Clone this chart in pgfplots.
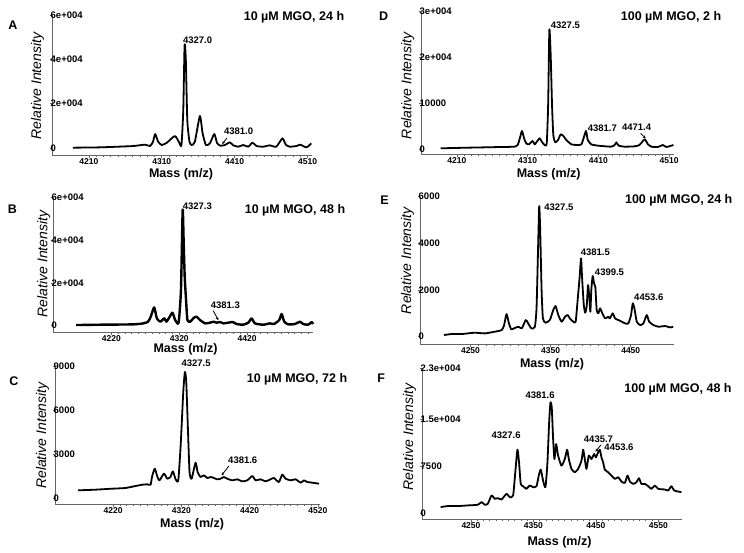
\documentclass[border=0pt]{standalone}
\usepackage{fontspec}
\setmainfont{Liberation Sans}
\usepackage{pgfplots}
\pgfplotsset{compat=1.18}
\usetikzlibrary{arrows.meta}
\newcommand\ttl{\fontsize{12.5}{14}\selectfont\bfseries}
\newcommand\ylab{\fontsize{14}{16}\selectfont\itshape}
\tikzset{
  anno/.style={font=\fontsize{9.5}{11}\selectfont\bfseries, inner sep=0pt},
  arr/.style={-{Stealth[length=3pt,width=3pt]}, line width=0.8pt, black},
  spl/.style={black, line width=1.8pt, line join=round, smooth, tension=0.35},
}
\pgfplotsset{
  spec/.style={
    scale only axis, clip=false, scaled ticks=false,
    axis x line=bottom, axis y line=left,
    axis line style={-, black!60, line width=0.8pt},
    tick style={black!60, line width=0.6pt},
    tick align=outside, major tick length=2.5pt, minor tick length=1.5pt,
    minor x tick num=9,
    every x tick label/.append style={font=\fontsize{8.5}{9}\selectfont\bfseries, inner sep=0.5pt},
    every y tick label/.append style={font=\fontsize{9.5}{10}\selectfont\bfseries, anchor=west, inner sep=1pt},
    /pgf/number format/assume math mode=true,
  },
}
\begin{document}
\begin{tikzpicture}
\useasboundingbox (0pt,0pt) rectangle (744pt,-552pt);

% ---------------- A ----------------
\begin{axis}[spec, at={(52pt,-155pt)}, anchor=south west, width=260pt, height=140pt,
  xmin=4159.5, xmax=4516, ymin=-3150, ymax=60000,
  xtick={4210,4310,4410,4510}, xticklabels={4210,4310,4410,4510},
  ytick={0,20000,40000,60000}, yticklabels={0,2e+004,4e+004,6e+004}]
\addplot[spl] coordinates {(4188,150) (4225,300) (4250,600) (4271,900) (4287,1500) (4294,900) (4298,2860) (4301,6300) (4305,2860) (4310,1350) (4317,2400) (4328,5400) (4334,2400) (4337,1350) (4339.5,17150) (4341.3,46500) (4343,39700) (4345,12630) (4348,2860) (4351,1350) (4355.4,2860) (4362.3,14440) (4366,6620) (4370.5,1350) (4376,2100) (4382,6320) (4386,2100) (4390.6,1050) (4396.5,1350) (4403.4,2560) (4408,1200) (4415,600) (4421.6,1350) (4428.5,600) (4434.4,2400) (4440,900) (4449,600) (4458,1200) (4467,600) (4475.5,4360) (4480,1500) (4485.6,600) (4494.7,900) (4500,1500) (4508.4,300) (4515,2100)};
\node[anno, anchor=south west] at (axis cs:4339,47000) {4327.0};
\node[anno] at (axis cs:4415.4,7370) {4381.0};
\draw[arr] (axis cs:4399.3,4510) -- (axis cs:4393,1800);
\end{axis}

% ---------------- D ----------------
\begin{axis}[spec, at={(421pt,-154pt)}, anchor=south west, width=253pt, height=143pt,
  xmin=4159.4, xmax=4516.8, ymin=-1087, ymax=30000,
  xtick={4210,4310,4410,4510}, xticklabels={4210,4310,4410,4510},
  ytick={0,10000,20000,30000}, yticklabels={0,10000,2e+004,3e+004}]
\addplot[spl] coordinates {(4187,150) (4226,290) (4273,435) (4292,508) (4296,870) (4299,2320) (4302,3915) (4305,2320) (4308,1233) (4312,1015) (4317,1740) (4320,1015) (4323,1595) (4327,2320) (4330,1595) (4334,870) (4337,1233) (4339,9570) (4340.7,25900) (4342.6,20445) (4344.5,9570) (4346.3,3045) (4349,1450) (4353,1958) (4356.7,3190) (4360.5,2828) (4364.7,1958) (4372,1015) (4381,870) (4386,1015) (4389,2320) (4392.5,3915) (4395,1958) (4400,1015) (4409.5,725) (4428,508) (4433,870) (4435.4,1450) (4438.7,725) (4447,508) (4461,580) (4468,870) (4475.4,2100) (4480,1015) (4485,508) (4494,435) (4501,870) (4506,435) (4516,870)};
\node[anno, anchor=west] at (axis cs:4342.6,26900) {4327.5};
\node[anno] at (axis cs:4415.6,4495) {4381.7};
\node[anno] at (axis cs:4464,4640) {4471.4};
\draw[arr] (axis cs:4469.7,3400) -- (axis cs:4476.8,2320);
\end{axis}

% ---------------- B ----------------
\begin{axis}[spec, at={(53pt,-332pt)}, anchor=south west, width=260pt, height=134.7pt,
  xmin=4134, xmax=4517, ymin=-2944, ymax=60000,
  xtick={4220,4320,4420,4520}, xticklabels={4220,4320,4420,4520},
  ytick={0,20000,40000,60000}, yticklabels={0,2e+004,4e+004,6e+004}]
\addplot[spl, line width=2.4pt] coordinates {(4168,312) (4203,468) (4252,624) (4267,1092) (4274,1872) (4278,4212) (4283,8580) (4287,3432) (4292,1872) (4298,3432) (4301,1872) (4306,4212) (4310,6084) (4314,2652) (4319,1404) (4322.5,16690) (4325,54100) (4326.4,40100) (4328,22930) (4330,12010) (4332,2652) (4336,1872) (4341.6,3744) (4345.6,4212) (4350.5,2652) (4358,1092) (4365,1404) (4371,1872) (4375,1404) (4380,1716) (4385,1092) (4392,1404) (4398.6,1716) (4404.5,780) (4414,468) (4421.7,1404) (4426.6,3432) (4431.5,1092) (4443.8,468) (4453.6,1092) (4459.5,780) (4467.3,2652) (4470.8,5460) (4474.7,1872) (4480.6,624) (4490.4,780) (4497.7,1872) (4502.6,780) (4510,468) (4515,1716) (4517,780)};
\node[anno, anchor=west] at (axis cs:4325,55700) {4327.3};
\node[anno] at (axis cs:4387.8,9670) {4381.3};
\draw[arr] (axis cs:4370,7020) -- (axis cs:4377.5,2650);
\end{axis}

% ---------------- E ----------------
\begin{axis}[spec, at={(420pt,-344.5pt)}, anchor=south west, width=254pt, height=147.8pt,
  xmin=4187, xmax=4504, ymin=-334, ymax=6000,
  xtick={4250,4350,4450}, xticklabels={4250,4350,4450},
  ytick={0,2000,4000,6000}, yticklabels={0,2000,4000,6000}]
\addplot[spl] coordinates {(4217,71) (4226,114) (4239,114) (4255,171) (4268,143) (4280,214) (4289,286) (4292,500) (4295,971) (4298,571) (4301,314) (4305,371) (4310,429) (4314,357) (4319,714) (4322,571) (4326,357) (4330.4,429) (4332.5,1286) (4334.6,4143) (4335.8,5600) (4337,4571) (4338.75,2000) (4340.4,786) (4343.75,600) (4349,714) (4353.3,1143) (4356.25,1314) (4359.6,929) (4363.75,643) (4368,857) (4371.25,929) (4374,786) (4378.3,643) (4381.25,643) (4383.75,1571) (4386.25,2571) (4388,3357) (4389.2,2571) (4391.25,1429) (4393,1029) (4395,1286) (4396.7,2214) (4398.3,1714) (4399.6,1071) (4400.8,2000) (4402.5,2600) (4404.2,2286) (4405.8,2143) (4407.5,1143) (4409.6,1000) (4411.7,1214) (4414.6,1000) (4418,786) (4422,857) (4424,786) (4427.5,1000) (4430.4,786) (4434.6,714) (4438.75,643) (4443,571) (4447,571) (4450.4,929) (4452.5,1429) (4454.6,1214) (4457.5,643) (4461.7,500) (4465.8,571) (4470,929) (4473,643) (4478.3,500) (4484.6,429) (4493,457) (4499,400) (4503,429)};
\node[anno, anchor=west] at (axis cs:4342,5557) {4327.5};
\node[anno] at (axis cs:4405.8,3629) {4381.5};
\node[anno] at (axis cs:4423.5,2757) {4399.5};
\node[anno] at (axis cs:4472.5,1671) {4453.6};
\end{axis}

% ---------------- C ----------------
\begin{axis}[spec, at={(55pt,-504.7pt)}, anchor=south west, width=265pt, height=138.7pt,
  xmin=4135, xmax=4523, ymin=-457, ymax=9000,
  xtick={4220,4320,4420,4520}, xticklabels={4220,4320,4420,4520},
  ytick={0,3000,6000,9000}, yticklabels={0,3000,6000,9000}]
\addplot[spl] coordinates {(4169,523) (4194,568) (4219,636) (4238,682) (4253,818) (4263,909) (4270,932) (4275,909) (4277,1432) (4281,2000) (4285,1432) (4288,1205) (4294.5,1659) (4299.4,1318) (4304,1432) (4307.6,1818) (4311.6,1273) (4315.5,1205) (4319,3591) (4322.8,7228) (4325.2,8592) (4327.2,7910) (4329.6,4728) (4332,1773) (4335,1318) (4340.8,2409) (4343.8,1773) (4348,1432) (4353,1546) (4358,1364) (4363,1432) (4367.7,1364) (4372.6,1273) (4377.4,1318) (4382.3,1432) (4387,1318) (4394.5,1205) (4401.8,1273) (4409,1136) (4416.5,1205) (4423.8,1500) (4428.7,1205) (4436,1273) (4443.3,1136) (4450.6,1273) (4455.5,1364) (4462.8,1091) (4467.7,1591) (4472.6,1318) (4480,1205) (4487.3,1273) (4494.6,1045) (4499.5,1205) (4504.4,1091) (4511.7,1045) (4521.5,977)};
\node[anno] at (axis cs:4341.5,9170) {4327.5};
\node[anno] at (axis cs:4409.9,2568) {4381.6};
\draw[arr] (axis cs:4389.6,2182) -- (axis cs:4378.9,1546);
\end{axis}

% ---------------- F ----------------
\begin{axis}[spec, at={(422pt,-519.7pt)}, anchor=south west, width=260pt, height=151pt,
  xmin=4171.6, xmax=4588, ymin=-952, ymax=23000,
  xtick={4250,4350,4450,4550}, xticklabels={4250,4350,4450,4550},
  ytick={0,7500,15000,23000}, yticklabels={0,7500,1.5e+004,2.3e+004}]
\addplot[spl] coordinates {(4201.5,1052) (4213,1210) (4229,1210) (4245,1315) (4261,1420) (4267,1841) (4272,1420) (4277,1578) (4283,2893) (4288,2367) (4293,2472) (4299,2262) (4307,3156) (4312,2630) (4317.5,2893) (4321,6575) (4324.4,10152) (4327,8153) (4329.7,4734) (4333.5,4366) (4338.8,3945) (4344,4471) (4349.5,4208) (4355,4366) (4358.6,6049) (4361.8,6996) (4365.5,5260) (4369.3,4208) (4372.5,8153) (4375.2,14465) (4377.3,17621) (4379.4,16832) (4381.6,11835) (4383.7,8679) (4386.4,11046) (4389.6,9205) (4394.9,7627) (4400.3,8679) (4404,10152) (4406.7,8679) (4411,7101) (4416.3,6575) (4421.6,7101) (4427,8416) (4429.7,10152) (4432.3,8679) (4435,7101) (4438.7,9205) (4443,8679) (4447.3,9468) (4450,8942) (4453.7,9731) (4456.4,10152) (4459,8942) (4461.7,8153) (4464.4,6996) (4469.7,6575) (4475,6049) (4480.4,5523) (4485.8,5786) (4491,5102) (4496.4,4892) (4500.7,6049) (4504.5,5102) (4509.8,4734) (4515.2,4997) (4519,5628) (4523,4734) (4528.5,4734) (4533.8,4366) (4539,3945) (4544.5,4471) (4550,3945) (4560.5,3840) (4566,3682) (4571,4366) (4575.5,3682) (4587,3419)};
\node[anno] at (axis cs:4360.7,18726) {4381.6};
\node[anno] at (axis cs:4306.2,12414) {4327.6};
\node[anno] at (axis cs:4454.2,11782) {4435.7};
\node[anno] at (axis cs:4487.1,10573) {4453.6};
\draw[arr] (axis cs:4458,10888) -- (axis cs:4449.4,9836);
\end{axis}

% ---------------- texts ----------------
\node[font=\ttl] at (13pt,-25pt) {A};
\node[font=\ttl] at (383.7pt,-16.2pt) {D};
\node[font=\ttl] at (12.5pt,-208.7pt) {B};
\node[font=\ttl] at (384.5pt,-199.8pt) {E};
\node[font=\ttl] at (14pt,-381.3pt) {C};
\node[font=\ttl] at (381.2pt,-378pt) {F};

\node[font=\ttl] at (294pt,-17pt) {10 µM MGO, 24 h};
\node[font=\ttl] at (671pt,-17.5pt) {100 µM MGO, 2 h};
\node[font=\ttl] at (295pt,-210.3pt) {10 µM MGO, 48 h};
\node[font=\ttl] at (678.7pt,-199.8pt) {100 µM MGO, 24 h};
\node[font=\ttl] at (297pt,-379.3pt) {10 µM MGO, 72 h};
\node[font=\ttl] at (678pt,-388.8pt) {100 µM MGO, 48 h};

\node[font=\ttl] at (181pt,-174pt) {Mass (m/z)};
\node[font=\ttl] at (548.7pt,-174pt) {Mass (m/z)};
\node[font=\ttl] at (185.5pt,-349pt) {Mass (m/z)};
\node[font=\ttl] at (552pt,-364.5pt) {Mass (m/z)};
\node[font=\ttl] at (192.2pt,-524.5pt) {Mass (m/z)};
\node[font=\ttl] at (559.5pt,-542pt) {Mass (m/z)};

\node[font=\ylab, rotate=90] at (37.5pt,-86pt) {Relative Intensity};
\node[font=\ylab, rotate=90] at (407.8pt,-85.8pt) {Relative Intensity};
\node[font=\ylab, rotate=90] at (43.8pt,-264pt) {Relative Intensity};
\node[font=\ylab, rotate=90] at (407.5pt,-260.7pt) {Relative Intensity};
\node[font=\ylab, rotate=90] at (42.5pt,-435.5pt) {Relative Intensity};
\node[font=\ylab, rotate=90] at (409.5pt,-437pt) {Relative Intensity};
\end{tikzpicture}
\end{document}
